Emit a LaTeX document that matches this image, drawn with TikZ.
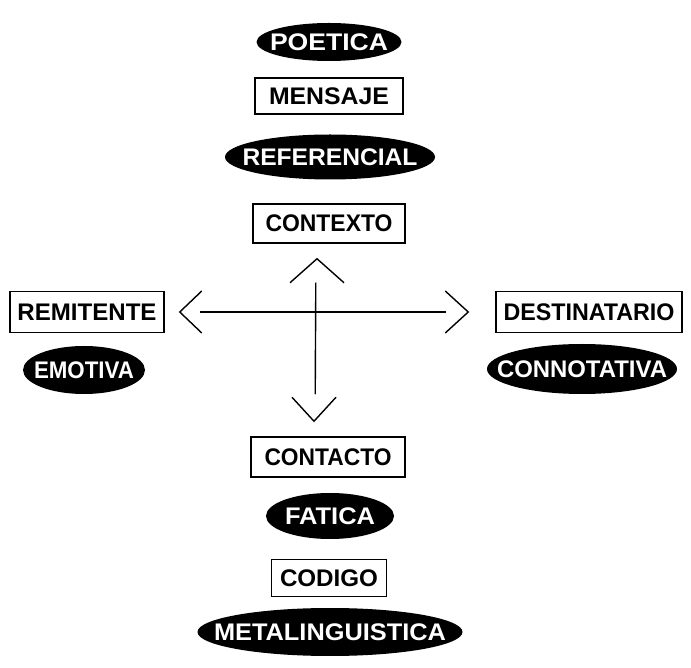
\documentclass[tikz,border=0pt]{standalone}
\usepackage{fontspec}
\setmainfont{Liberation Sans}
\usepackage{tikz}
\usetikzlibrary{shapes,positioning}
% text set to a given width, height kept
\newcommand{\fit}[2]{\resizebox{#1}{\height}{#2}}
\newcommand{\fun}[2]{\makebox[0pt]{\fit{#1}{#2}}}
\tikzstyle{box} = [rectangle, draw=black, line width=1.5pt, inner sep=0pt, text centered, font=\bfseries\fontsize{24}{27}\selectfont]
\tikzstyle{funcion} = [ellipse, fill=black, text=white, inner sep=0pt, font=\bfseries\fontsize{24}{27}\selectfont]
\tikzstyle{cross} = [line width=1.4pt]
\tikzstyle{chevron} = [line width=1.4pt, line join=miter]

\begin{document}
\begin{tikzpicture}[x=1pt,y=1pt]
\useasboundingbox (0,0) rectangle (691,667);
% Central column
\node (poetica) [funcion, minimum width=145pt, minimum height=38pt] at (329,625) {\fun{118pt}{POETICA}};
\node (mensaje) [box, minimum width=148pt, minimum height=36pt] at (329,571) {\fit{120pt}{MENSAJE}};
\node (referencial) [funcion, minimum width=210pt, minimum height=45pt] at (330,510) {\fun{175pt}{REFERENCIAL}};
\node (contexto) [box, minimum width=152pt, minimum height=39pt] at (329,443.5) {\fit{127pt}{CONTEXTO}};
\node (contacto) [box, minimum width=154pt, minimum height=40pt] at (328,210) {\fit{127pt}{CONTACTO}};
\node (fatica) [funcion, minimum width=128pt, minimum height=46pt] at (330,151) {\fun{90pt}{FATICA}};
\node (codigo) [box, minimum width=115pt, minimum height=37pt] at (329,89) {\fit{98pt}{CODIGO}};
\node (metalinguistica) [funcion, minimum width=265pt, minimum height=48pt] at (330,35) {\fun{232pt}{METALINGUISTICA}};

% Sides
\node (remitente) [box, minimum width=154pt, minimum height=41pt] at (87,355) {\fit{139pt}{REMITENTE}};
\node (emotiva) [funcion, minimum width=122pt, minimum height=48pt] at (84,297) {\fun{100pt}{EMOTIVA}};
\node (destinatario) [box, minimum width=186pt, minimum height=41pt] at (589,355) {\fit{171pt}{DESTINATARIO}};
\node (connotativa) [funcion, minimum width=190pt, minimum height=50pt] at (582,298) {\fun{170pt}{CONNOTATIVA}};

% Cross
\draw[cross, shorten <=35pt, shorten >=49pt] (remitente.east) -- (destinatario.west);
\draw[cross, shorten <=39pt, shorten >=42pt] ([xshift=-13pt]contexto.south) -- ([xshift=-13pt]contacto.north);

\coordinate[right=15pt of remitente] (tip_left);
\coordinate[left=27pt of destinatario] (tip_right);
\coordinate[below=15pt of contexto, xshift=-12pt] (tip_up);
\coordinate[above=15pt of contacto, xshift=-14pt] (tip_down);
\draw[chevron] (tip_left) ++(22,21) -- (tip_left) -- ++(22,-21);
\draw[chevron] (tip_right) ++(-23,21) -- (tip_right) -- ++(-23,-21);
\draw[chevron] (tip_up) ++(-27,-24) -- (tip_up) -- ++(27,-24);
\draw[chevron] (tip_down) ++(-22,24) -- (tip_down) -- ++(22,24);
\end{tikzpicture}
\end{document}
